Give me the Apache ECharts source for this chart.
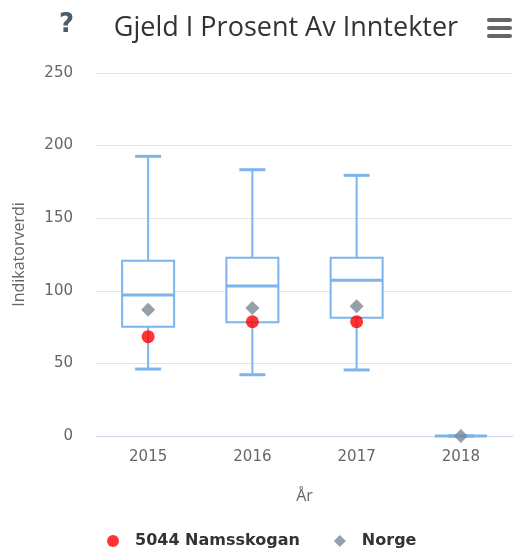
<!DOCTYPE html>
<html>
<head>
<meta charset="utf-8">
<script src="https://cdn.jsdelivr.net/npm/echarts@6/dist/echarts.min.js"></script>
<style>
  html, body { margin: 0; padding: 0; background: #fff; }
  #chart { width: 513px; height: 550px; }
</style>
</head>
<body>
<div id="chart"></div>
<script>
// Years on the x axis
const years = ['2015', '2016', '2017', '2018'];
// Box statistics per year: [min, Q1, median, Q3, max]
const boxMin    = [46.1, 42.2, 45.5, 0];
const boxQ1     = [75.3, 78.3, 81.5, 0];
const boxMedian = [97.1, 103.3, 107.2, 0];
const boxQ3     = [120.7, 122.8, 122.8, 0];
const boxMax    = [192.6, 183.4, 179.5, 0];
// Point values
const namsskogan = [68.4, 78.7, 78.7, null];
const norge = [87.0, 88.2, 89.3, 0];
// Value axis ticks
const yTicks = [0, 50, 100, 150, 200, 250];

const boxColor = '#7cb5ec';
const sans = '"Open Sans", sans-serif';
const wide = '"DejaVu Sans", Verdana, sans-serif';

const boxData = years.map((y, i) => [i, boxMin[i], boxQ1[i], boxMedian[i], boxQ3[i], boxMax[i]]);

function renderBox(params, api) {
  const idx = api.value(0);
  const pMin = api.coord([idx, api.value(1)]);
  const pQ1 = api.coord([idx, api.value(2)]);
  const pMed = api.coord([idx, api.value(3)]);
  const pQ3 = api.coord([idx, api.value(4)]);
  const pMax = api.coord([idx, api.value(5)]);
  const x = pMed[0];
  const bw = 52, cw = 26;
  const stroke = { stroke: boxColor, lineWidth: 2, fill: null };
  const capStyle = { stroke: boxColor, lineWidth: 3 };
  return {
    type: 'group',
    children: [
      { type: 'line', shape: { x1: x, y1: pQ3[1], x2: x, y2: pMax[1] }, style: stroke },
      { type: 'line', shape: { x1: x, y1: pQ1[1], x2: x, y2: pMin[1] }, style: stroke },
      { type: 'line', shape: { x1: x - cw / 2, y1: pMax[1], x2: x + cw / 2, y2: pMax[1] }, style: capStyle },
      { type: 'line', shape: { x1: x - cw / 2, y1: pMin[1], x2: x + cw / 2, y2: pMin[1] }, style: capStyle },
      { type: 'rect', shape: { x: x - bw / 2, y: pQ3[1], width: bw, height: pQ1[1] - pQ3[1] },
        style: { fill: '#fff', stroke: boxColor, lineWidth: 2 } },
      { type: 'line', shape: { x1: x - bw / 2, y1: pMed[1], x2: x + bw / 2, y2: pMed[1] }, style: capStyle }
    ]
  };
}

const chart = echarts.init(document.getElementById('chart'));
chart.setOption({
  animation: false,
  title: {
    text: 'Gjeld I Prosent Av Inntekter',
    left: 281, top: 10, textAlign: 'center',
    textStyle: { fontFamily: sans, fontSize: 27, fontWeight: 'normal', color: '#333' }
  },
  graphic: [
    { type: 'text', left: 59, top: 12,
      style: { text: '?', fontFamily: wide, fontSize: 26, fontWeight: 'bold', fill: '#4b5c6b' } },
    { type: 'rect', left: 487, top: 18, shape: { width: 25, height: 4, r: 2 }, style: { fill: '#666' } },
    { type: 'rect', left: 487, top: 26, shape: { width: 25, height: 4, r: 2 }, style: { fill: '#666' } },
    { type: 'rect', left: 487, top: 34, shape: { width: 25, height: 4, r: 2 }, style: { fill: '#666' } }
  ],
  grid: { left: 96, right: 0, top: 73, bottom: 114 },
  legend: {
    top: 528, left: 102,
    itemGap: 34, itemWidth: 12, itemHeight: 12,
    textStyle: { fontFamily: wide, fontSize: 16, fontWeight: 'bold', color: '#333', padding: [0, 0, 0, 11] },
    data: [
      { name: '5044 Namsskogan', icon: 'circle' },
      { name: 'Norge', icon: 'diamond', itemStyle: { color: '#7a8896' } }
    ]
  },
  xAxis: {
    type: 'category',
    data: years,
    name: 'År', nameLocation: 'middle', nameGap: 52,
    nameTextStyle: { fontFamily: sans, fontSize: 16, color: '#666' },
    axisLine: { lineStyle: { color: '#ccd6eb' } },
    axisTick: { show: false },
    axisLabel: { fontFamily: wide, fontSize: 15, color: '#666', margin: 14 }
  },
  yAxis: {
    type: 'value',
    min: yTicks[0], max: yTicks[yTicks.length - 1], interval: 50,
    name: 'Indikatorverdi', nameLocation: 'middle', nameGap: 69,
    nameTextStyle: { fontFamily: sans, fontSize: 16, color: '#666' },
    axisLine: { show: false },
    axisTick: { show: false },
    axisLabel: { fontFamily: wide, fontSize: 15, color: '#666', margin: 23 },
    splitLine: { lineStyle: { color: '#e6e6e6', width: 1 } }
  },
  series: [
    {
      name: 'Boks', type: 'custom', renderItem: renderBox, data: boxData,
      encode: { x: 0, y: [1, 2, 3, 4, 5] }, z: 2
    },
    {
      name: '5044 Namsskogan', type: 'scatter', symbol: 'circle', symbolSize: 13,
      itemStyle: { color: '#ff0000' }, data: namsskogan, z: 4
    },
    {
      name: 'Norge', type: 'scatter', symbol: 'diamond', symbolSize: 14,
      itemStyle: { color: '#7a8896' }, data: norge, z: 3
    }
  ]
});
</script>
</body>
</html>
